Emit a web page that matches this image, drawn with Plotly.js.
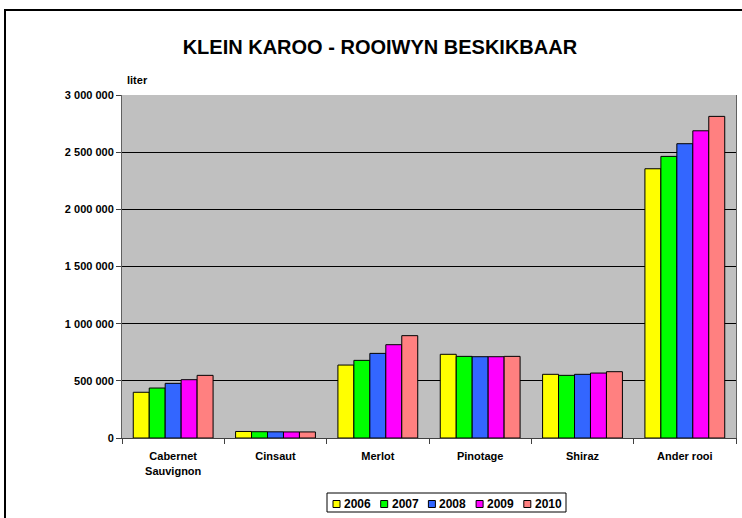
<!DOCTYPE html>
<html><head><meta charset="utf-8">
<script src="https://cdn.plot.ly/plotly-3.0.1.min.js"></script>
<style>
html,body{margin:0;padding:0;background:#fff;}
#wrap{position:relative;width:742px;height:518px;overflow:hidden;}
#frame{position:absolute;left:4px;top:9px;width:760px;height:540px;border:2px solid #000;box-sizing:border-box;pointer-events:none;z-index:5;}
#chart{position:absolute;left:0;top:0;width:742px;height:518px;}
</style></head>
<body><div id="wrap"><div id="chart"></div><div id="frame"></div></div>
<script>
const categories = ["Cabernet<br>Sauvignon", "Cinsaut", "Merlot", "Pinotage", "Shiraz", "Ander rooi"];
const years = ["2006", "2007", "2008", "2009", "2010"];
const colors = ["#FFFF00", "#00FF00", "#3366FF", "#FF00FF", "#FF8080"];
const v2006 = [400000, 57000, 638000, 732000, 557000, 2355000];
const v2007 = [437000, 55000, 679000, 714000, 548000, 2463000];
const v2008 = [478000, 54000, 740000, 711000, 557000, 2574000];
const v2009 = [510000, 53000, 816000, 711000, 568000, 2687000];
const v2010 = [548000, 53000, 895000, 714000, 580000, 2813000];
const series = [v2006, v2007, v2008, v2009, v2010];
const yTickVals = [0, 500000, 1000000, 1500000, 2000000, 2500000, 3000000];
const yTickText = ["0", "500 000", "1 000 000", "1 500 000", "2 000 000", "2 500 000", "3 000 000"];

const font = "Liberation Sans, Arial, sans-serif";
const traces = series.map((vals, i) => ({
  type: "bar",
  name: years[i],
  x: categories,
  y: vals,
  marker: {color: colors[i], line: {color: "#000", width: 1}},
  hoverinfo: "skip",
  showlegend: false
}));

// pixel -> paper helpers for the custom legend
const L = 122, R = 736, T = 95, B = 438;
const px = x => (x - L) / (R - L);
const py = y => (B - y) / (B - T);

const shapes = [{
  type: "rect", xref: "paper", yref: "paper",
  x0: px(327), x1: px(566), y0: py(512), y1: py(493),
  line: {color: "#000", width: 1}, fillcolor: "#fff", layer: "above"
}];
const annotations = [{
  text: "<b>liter</b>", xref: "paper", yref: "paper", x: 0.005, y: 1.02,
  xanchor: "left", yanchor: "bottom", showarrow: false,
  font: {family: font, size: 11, color: "#000"}
}];
years.forEach((yr, i) => {
  const sx = 333 + i * 47.7;
  shapes.push({
    type: "rect", xref: "paper", yref: "paper",
    x0: px(sx), x1: px(sx + 7), y0: py(507.5), y1: py(500.5),
    line: {color: "#000", width: 1}, fillcolor: colors[i], layer: "above"
  });
  annotations.push({
    text: "<b>" + yr + "</b>", xref: "paper", yref: "paper",
    x: px(sx + 9), y: py(503.5), xanchor: "left", yanchor: "middle",
    showarrow: false, font: {family: font, size: 12, color: "#000"}
  });
});

const layout = {
  width: 742, height: 518,
  margin: {l: 122, r: 6, t: 95, b: 80},
  paper_bgcolor: "rgba(0,0,0,0)",
  plot_bgcolor: "#C0C0C0",
  barmode: "group",
  bargap: 0.22,
  bargroupgap: 0,
  showlegend: false,
  font: {family: font, color: "#000", size: 11},
  title: {text: "<b>KLEIN KAROO - ROOIWYN BESKIKBAAR</b>", font: {family: font, size: 20, color: "#000"},
          x: 0.512, xanchor: "center", y: 0.91, yanchor: "middle"},
  xaxis: {
    type: "category",
    tickson: "boundaries",
    ticks: "outside", ticklen: 5, tickcolor: "#404040",
    ticklabelstandoff: 8,
    showline: true, linecolor: "#404040", linewidth: 1, mirror: false,
    tickfont: {family: font, size: 11, color: "#000", weight: "bold"},
    showgrid: false
  },
  yaxis: {
    range: [0, 3000000],
    tickvals: yTickVals, ticktext: yTickText,
    ticks: "outside", ticklen: 5, tickcolor: "#404040",
    showline: true, linecolor: "#606060", linewidth: 1, mirror: true,
    gridcolor: "#000", gridwidth: 1,
    zeroline: false,
    tickfont: {family: font, size: 11, color: "#000", weight: "bold"}
  },
  shapes: shapes,
  annotations: annotations
};
Plotly.newPlot("chart", traces, layout, {displayModeBar: false, staticPlot: true});
</script></body></html>
